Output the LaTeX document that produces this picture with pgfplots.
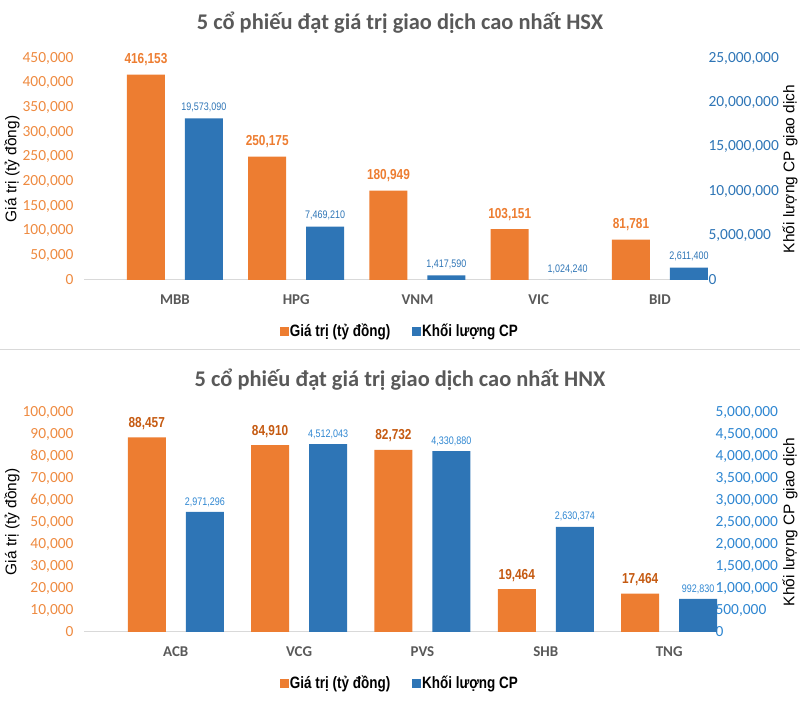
\documentclass[border=0pt]{standalone}
\usepackage{pgfplots}
\pgfplotsset{compat=1.18}
\usepackage{pgfplotstable}
\usepackage{fontspec}
\setmainfont{Carlito}
\newfontfamily\arial{Liberation Sans}
\newfontfamily\narrow[FakeStretch=0.82]{Liberation Sans}

\definecolor{orng}{HTML}{ED7D31}
\definecolor{tickorng}{HTML}{EE8A40}
\definecolor{dorng}{HTML}{C55A11}
\definecolor{blu}{HTML}{2E75B6}
\definecolor{lblu}{HTML}{2E86D1}
\definecolor{txtgray}{HTML}{595959}
\definecolor{lgray}{HTML}{D9D9D9}

% HSX: value (ty dong)
\pgfplotstableread{
x y lab
0 416153 416,153
1 250175 250,175
2 180949 180,949
3 103151 103,151
4 81781 81,781
}\hsxval
% HSX: volume (bar heights as drawn; labels as printed)
\pgfplotstableread{
x y lab
0 18200000 19,573,090
1 6000000 7,469,210
2 530000 1,417,590
3 0 1,024,240
4 1390000 2,611,400
}\hsxvol
% HNX: value
\pgfplotstableread{
x y lab
0 88457 88,457
1 84910 84,910
2 82732 82,732
3 19464 19,464
4 17464 17,464
}\hnxval
% HNX: volume
\pgfplotstableread{
x y lab
0 2730000 2,971,296
1 4270000 4,512,043
2 4110000 4,330,880
3 2390000 2,630,374
4 750000 992,830
}\hnxvol

\pgfplotsset{
  base/.style={
    scale only axis, ybar, bar width=38bp, ymin=0, clip=false,
    enlargelimits=false,
    xtick={0,1,2,3,4},
    major tick length=0pt, tick style={draw=none},
    y axis line style={draw=none},
    scaled y ticks=false,
    /pgf/number format/fixed,
    /pgf/number format/1000 sep={,},
    /pgf/number format/assume math mode=true,
    yticklabel style={font=\fontsize{15.5}{15.5}\selectfont},
    nodes near coords, point meta=explicit symbolic,
  },
  leftax/.style={
    base,
    axis x line*=bottom, axis y line*=left,
    x axis line style={-, draw=lgray, line width=1bp},
    xticklabel style={font=\bfseries\fontsize{15}{15}\selectfont, text=txtgray, yshift=-11bp},
    yticklabel style={text=tickorng, anchor=east, xshift=-7bp},
    ylabel style={font=\arial\fontsize{15.5}{15.5}\selectfont, anchor=center},
    legend style={draw=none, legend columns=2, anchor=center,
      font=\narrow\bfseries\fontsize{16.5}{16.5}\selectfont,
      /tikz/every even column/.append style={column sep=20bp},
      /tikz/every odd column/.append style={}},
  },
  rightax/.style={
    base,
    hide x axis, axis y line*=right,
    yticklabel style={anchor=west},
    ylabel style={font=\arial\fontsize{15.5}{15.5}\selectfont, anchor=center},
  },
}

\begin{document}
\begin{tikzpicture}
\useasboundingbox (0,0) rectangle (800bp,728bp);

% ---------------- HSX ----------------
\node[font=\bfseries\fontsize{22.5}{22.5}\selectfont, text=txtgray] at (400bp,705bp)
  {5 cổ phiếu đạt giá trị giao dịch cao nhất HSX};

\begin{axis}[leftax,
  at={(84bp,448bp)}, anchor=south west, width=616bp, height=222bp,
  xmin=-0.75, xmax=4.33, ymax=450000,
  ytick={0,50000,100000,150000,200000,250000,300000,350000,400000,450000},
  xticklabels={MBB,HPG,VNM,VIC,BID},
  ylabel={Giá trị (tỷ đồng)},
  ylabel style={at={(axis description cs:-0.117,0.5)}},
  bar shift=-29bp,
  nodes near coords style={font=\narrow\bfseries\fontsize{14.5}{14.5}\selectfont, text=orng, anchor=center, yshift=15bp},
  legend style={at={(rel axis cs:0.513,-0.23)}},
]
\addlegendimage{legend image code/.code={\fill[orng] (0bp,-4bp) rectangle (7.5bp,4bp);}}
\addlegendentry{Giá trị (tỷ đồng)}
\addlegendimage{legend image code/.code={\fill[blu] (0bp,-4bp) rectangle (7.5bp,4bp);}}
\addlegendentry{Khối lượng CP}
\addplot[fill=orng, draw=none, forget plot] table[x=x, y=y, meta=lab] {\hsxval};
\end{axis}

\begin{axis}[rightax,
  at={(84bp,448bp)}, anchor=south west, width=616bp, height=222bp,
  xmin=-0.75, xmax=4.33, ymax=25000000,
  ytick={0,5000000,10000000,15000000,20000000,25000000},
  yticklabel style={text=blu, xshift=5bp},
  ylabel={Khối lượng CP giao dịch},
  ylabel style={at={(axis description cs:1.146,0.5)}},
  bar shift=29bp,
  nodes near coords style={font=\narrow\fontsize{11}{11}\selectfont, text=blu, anchor=center, yshift=11bp},
]
\addplot[fill=blu, draw=none] table[x=x, y=y, meta=lab] {\hsxvol};
\end{axis}

% separator
\draw[lgray, line width=1bp] (0bp,378bp) -- (800bp,378bp);

% ---------------- HNX ----------------
\node[font=\bfseries\fontsize{22.5}{22.5}\selectfont, text=txtgray] at (400bp,348bp)
  {5 cổ phiếu đạt giá trị giao dịch cao nhất HNX};

\begin{axis}[leftax,
  at={(84bp,96bp)}, anchor=south west, width=632bp, height=220bp,
  xmin=-0.744, xmax=4.38, ymax=100000,
  ytick={0,10000,20000,30000,40000,50000,60000,70000,80000,90000,100000},
  xticklabels={ACB,VCG,PVS,SHB,TNG},
  ylabel={Giá trị (tỷ đồng)},
  ylabel style={at={(axis description cs:-0.114,0.5)}},
  bar shift=-29bp,
  nodes near coords style={font=\narrow\bfseries\fontsize{14.5}{14.5}\selectfont, text=dorng, anchor=center, yshift=14bp},
  legend style={at={(rel axis cs:0.5,-0.232)}},
]
\addlegendimage{legend image code/.code={\fill[orng] (0bp,-4bp) rectangle (7.5bp,4bp);}}
\addlegendentry{Giá trị (tỷ đồng)}
\addlegendimage{legend image code/.code={\fill[blu] (0bp,-4bp) rectangle (7.5bp,4bp);}}
\addlegendentry{Khối lượng CP}
\addplot[fill=orng, draw=none, forget plot] table[x=x, y=y, meta=lab] {\hnxval};
\end{axis}

\begin{axis}[rightax,
  at={(84bp,96bp)}, anchor=south west, width=632bp, height=220bp,
  xmin=-0.744, xmax=4.38, ymax=5000000,
  ytick={0,500000,1000000,1500000,2000000,2500000,3000000,3500000,4000000,4500000,5000000},
  yticklabel style={text=lblu, xshift=-4bp},
  ylabel={Khối lượng CP giao dịch},
  ylabel style={at={(axis description cs:1.117,0.5)}},
  bar shift=29bp,
  nodes near coords style={font=\narrow\fontsize{11}{11}\selectfont, text=lblu, anchor=center, yshift=10bp},
]
\addplot[fill=blu, draw=none] table[x=x, y=y, meta=lab] {\hnxvol};
\end{axis}
\end{tikzpicture}
\end{document}
